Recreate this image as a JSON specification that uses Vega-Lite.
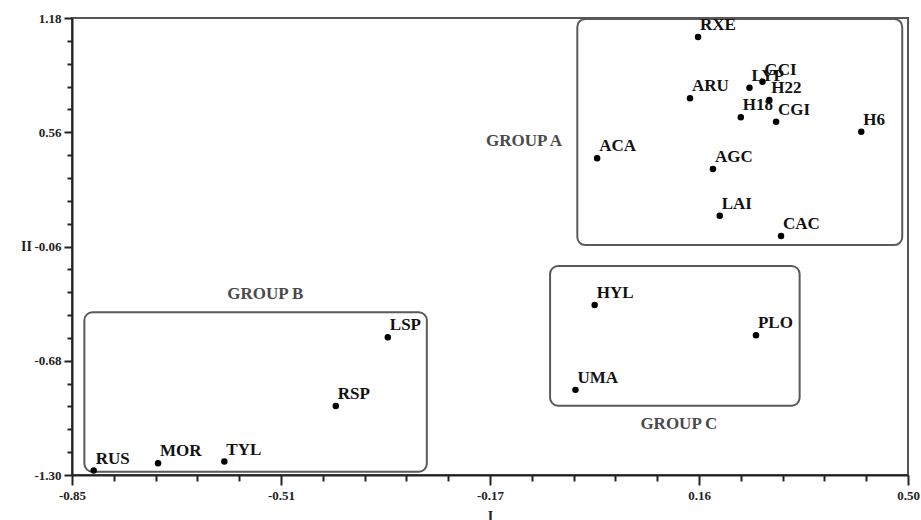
{
  "$schema": "https://vega.github.io/schema/vega-lite/v6.json",
  "width": 836,
  "height": 457,
  "autosize": {"type": "none"},
  "padding": {"left": 72, "top": 18, "right": 13, "bottom": 45},
  "background": "white",
  "config": {
    "view": {"stroke": "#555", "strokeWidth": 2},
    "font": "Liberation Serif"
  },
  "datasets": {
    "points": [
      {"name": "RXE", "I": 0.161, "II": 1.077},
      {"name": "ARU", "I": 0.148, "II": 0.744},
      {"name": "LYP", "I": 0.244, "II": 0.802},
      {"name": "GCI", "I": 0.265, "II": 0.834},
      {"name": "H22", "I": 0.276, "II": 0.735},
      {"name": "H18", "I": 0.230, "II": 0.641},
      {"name": "CGI", "I": 0.287, "II": 0.617},
      {"name": "H6", "I": 0.4245, "II": 0.563},
      {"name": "ACA", "I": -0.002, "II": 0.419},
      {"name": "AGC", "I": 0.185, "II": 0.361},
      {"name": "LAI", "I": 0.196, "II": 0.107},
      {"name": "CAC", "I": 0.295, "II": -0.003},
      {"name": "HYL", "I": -0.006, "II": -0.377},
      {"name": "PLO", "I": 0.2545, "II": -0.542},
      {"name": "UMA", "I": -0.037, "II": -0.838},
      {"name": "LSP", "I": -0.340, "II": -0.553},
      {"name": "RSP", "I": -0.424, "II": -0.925},
      {"name": "TYL", "I": -0.604, "II": -1.227},
      {"name": "MOR", "I": -0.711, "II": -1.236},
      {"name": "RUS", "I": -0.815, "II": -1.276}
    ],
    "groups": [
      {"group": "GROUP A", "x1": -0.034, "x2": 0.4907, "y1": 1.175, "y2": -0.052, "lx": -0.120, "ly": 0.513},
      {"group": "GROUP B", "x1": -0.830, "x2": -0.277, "y1": -0.417, "y2": -1.282, "lx": -0.538, "ly": -0.318},
      {"group": "GROUP C", "x1": -0.078, "x2": 0.325, "y1": -0.166, "y2": -0.924, "lx": 0.130, "ly": -1.023}
    ]
  },
  "layer": [
    {
      "data": {"name": "groups"},
      "mark": {"type": "rect", "fill": null, "fillOpacity": 0, "stroke": "#5a5a5a", "strokeWidth": 2, "cornerRadius": 8},
      "encoding": {
        "x": {"field": "x1", "type": "quantitative",
              "scale": {"domain": [-0.85, 0.5], "nice": false, "zero": false},
              "axis": {"orient": "bottom", "values": [-0.7825, -0.715, -0.6475, -0.58, -0.445, -0.3775, -0.31, -0.2425, -0.1075, -0.04, 0.0275, 0.095, 0.23, 0.2975, 0.365, 0.4325],
                       "labels": false, "domain": false, "grid": false, "title": null, "tickSize": 6, "tickWidth": 2, "tickColor": "#222"}},
        "x2": {"field": "x2"},
        "y": {"field": "y1", "type": "quantitative",
              "scale": {"domain": [-1.30, 1.18], "nice": false, "zero": false},
              "axis": {"orient": "left", "values": [1.056, 0.932, 0.808, 0.684, 0.436, 0.312, 0.188, 0.064, -0.184, -0.308, -0.432, -0.556, -0.804, -0.928, -1.052, -1.176],
                       "labels": false, "domain": false, "grid": false, "title": null, "tickSize": 5, "tickWidth": 2, "tickColor": "#222"}},
        "y2": {"field": "y2"}
      }
    },
    {
      "data": {"name": "groups"},
      "mark": {"type": "text", "font": "Liberation Serif", "fontSize": 17, "fontWeight": "bold", "color": "#4a4a4a", "align": "center", "baseline": "middle"},
      "encoding": {
        "x": {"field": "lx", "type": "quantitative", "scale": {"domain": [-0.85, 0.5], "nice": false, "zero": false}, "axis": null},
        "y": {"field": "ly", "type": "quantitative", "scale": {"domain": [-1.30, 1.18], "nice": false, "zero": false}, "axis": null},
        "text": {"field": "group"}
      }
    },
    {
      "data": {"name": "points"},
      "mark": {"type": "circle", "color": "black", "opacity": 1, "size": 42},
      "encoding": {
        "x": {"field": "I", "type": "quantitative",
              "scale": {"domain": [-0.85, 0.5], "nice": false, "zero": false},
              "axis": {"orient": "bottom", "values": [-0.85, -0.5125, -0.175, 0.1625, 0.5],
                       "labelExpr": "datum.value < -0.8 ? '-0.85' : datum.value < -0.4 ? '-0.51' : datum.value < 0 ? '-0.17' : datum.value < 0.3 ? '0.16' : '0.50'",
                       "grid": false, "domainColor": "#222", "domainWidth": 2, "tickColor": "#222", "tickWidth": 2, "tickSize": 10,
                       "labelFont": "Liberation Serif", "labelFontWeight": "bold", "labelFontSize": 13, "labelColor": "#222", "labelPadding": 4,
                       "labelFlush": false, "labelOverlap": false,
                       "title": "I", "titleFont": "Liberation Serif", "titleFontSize": 14, "titleFontWeight": "bold", "titleColor": "#222",
                       "titleY": 41, "titleBaseline": "middle"}},
        "y": {"field": "II", "type": "quantitative",
              "scale": {"domain": [-1.30, 1.18], "nice": false, "zero": false},
              "axis": {"orient": "left", "values": [-1.30, -0.68, -0.06, 0.56, 1.18],
                       "labelExpr": "datum.value < -1 ? '-1.30' : datum.value < -0.5 ? '-0.68' : datum.value < 0 ? '-0.06' : datum.value < 1 ? '0.56' : '1.18'",
                       "grid": false, "domainColor": "#222", "domainWidth": 2, "tickColor": "#222", "tickWidth": 2, "tickSize": 8,
                       "labelFont": "Liberation Serif", "labelFontWeight": "bold", "labelFontSize": 13, "labelColor": "#222", "labelPadding": 3,
                       "labelFlush": false, "labelOverlap": false,
                       "title": "II", "titleFont": "Liberation Serif", "titleFontSize": 14, "titleFontWeight": "bold", "titleColor": "#222",
                       "titleAngle": 0, "titleX": -46, "titleY": 228.5, "titleAlign": "center", "titleBaseline": "middle"}}
      }
    },
    {
      "data": {"name": "points"},
      "mark": {"type": "text", "font": "Liberation Serif", "fontSize": 17, "fontWeight": "bold", "color": "#111", "align": "left", "baseline": "alphabetic", "dx": 2, "dy": -7},
      "encoding": {
        "x": {"field": "I", "type": "quantitative", "scale": {"domain": [-0.85, 0.5], "nice": false, "zero": false}, "axis": null},
        "y": {"field": "II", "type": "quantitative", "scale": {"domain": [-1.30, 1.18], "nice": false, "zero": false}, "axis": null},
        "text": {"field": "name"}
      }
    }
  ],
  "resolve": {"axis": {"x": "independent", "y": "independent"}}
}
